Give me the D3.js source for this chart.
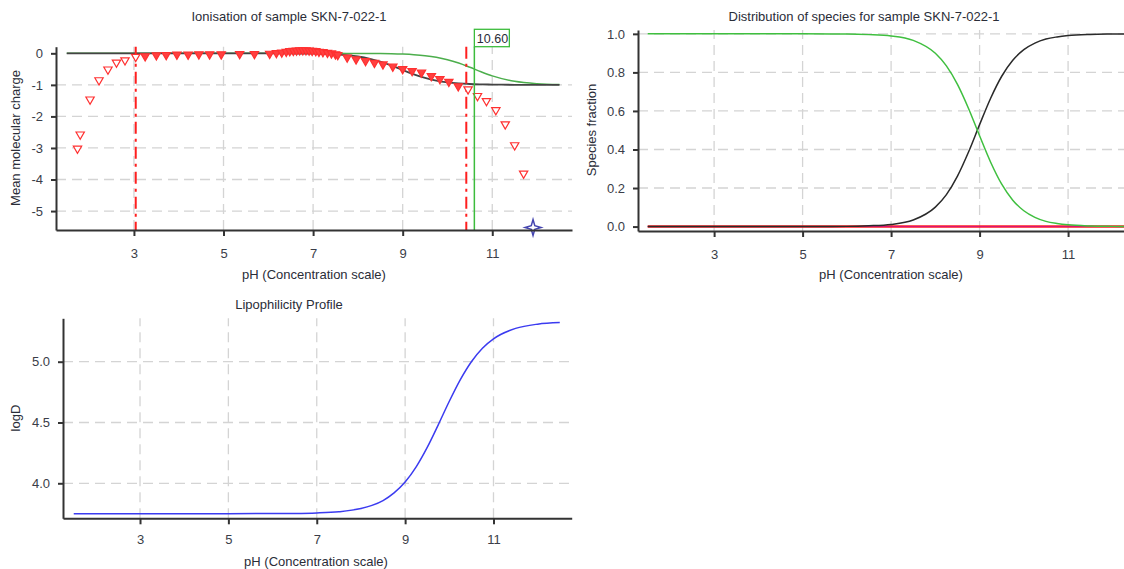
<!DOCTYPE html>
<html><head><meta charset="utf-8">
<script src="https://cdn.jsdelivr.net/npm/d3@7"></script>
<style>body{margin:0;background:#fff;} svg{display:block;font-family:"Liberation Sans",Arial,sans-serif;}</style>
</head><body><svg id="c" width="1124" height="569"></svg>
<script>
// ---------------- data ----------------
const phTicks = [3, 5, 7, 9, 11];
const chargeTicks = [0, -1, -2, -3, -4, -5];
const fractionTicks = [0.0, 0.2, 0.4, 0.6, 0.8, 1.0];
const logDTicks = [4.0, 4.5, 5.0];

const titleIon = "Ionisation of sample SKN-7-022-1";
const titleDist = "Distribution of species for sample SKN-7-022-1";
const titleLipo = "Lipophilicity Profile";
const xTitle = "pH (Concentration scale)";

// measured points (mean molecular charge)
const markerPH = [1.74,1.80,2.02,2.22,2.42,2.61,2.80,3.04,3.25,3.50,3.72,3.96,4.21,4.45,4.69,4.95,5.36,5.69,
  6.03,6.18,6.30,6.40,6.48,6.56,6.63,6.70,6.77,6.84,6.91,6.98,7.06,7.13,7.22,7.32,7.41,7.50,
  7.55,7.76,7.96,8.17,8.37,8.56,8.78,9.00,9.21,9.42,9.64,9.83,10.03,10.24,10.46,10.67,10.87,11.08,11.29,11.50,11.70];
const markerCharge = [-3.02,-2.57,-1.46,-0.85,-0.51,-0.29,-0.22,-0.11,-0.09,-0.06,-0.05,-0.04,-0.04,-0.03,-0.03,-0.03,-0.02,-0.02,
  -0.01,0.01,0.03,0.05,0.07,0.08,0.09,0.10,0.10,0.10,0.09,0.08,0.07,0.05,0.04,0.02,0.00,-0.03,
  -0.05,-0.13,-0.19,-0.24,-0.30,-0.35,-0.42,-0.50,-0.56,-0.61,-0.72,-0.81,-0.90,-1.04,-1.14,-1.35,-1.51,-1.80,-2.25,-2.91,-3.81];
const fitRange = [3.04, 10.42];
const pKaLabel = 10.60;
const starPH = 11.91, starCharge = -5.52;

// fitted curves
const curvePH = [1.5,2,3,4,5,6,6.5,7,7.5,8,8.25,8.5,8.75,9,9.25,9.5,9.75,10,10.25,10.5,10.75,11,11.5,12,12.5];
const chargeFit = [0,0,0,0,0,-0.001,-0.004,-0.011,-0.034,-0.101,-0.166,-0.262,-0.387,-0.529,-0.666,-0.780,-0.863,-0.918,-0.952,-0.973,-0.984,-0.991,-0.997,-0.999,-1.0];
const chargeMacro = [0,0,0,0,0,0,0,0,-0.001,-0.003,-0.004,-0.008,-0.014,-0.025,-0.043,-0.074,-0.124,-0.201,-0.309,-0.443,-0.585,-0.715,-0.888,-0.962,-0.988];
const fracNeutral = [1,1,1,1,1,0.999,0.996,0.989,0.966,0.899,0.834,0.738,0.613,0.471,0.334,0.220,0.137,0.082,0.048,0.027,0.016,0.009,0.003,0.001,0.0];
const fracAnion = [0,0,0,0,0,0.001,0.004,0.011,0.034,0.101,0.166,0.262,0.387,0.529,0.666,0.780,0.863,0.918,0.952,0.973,0.984,0.991,0.997,0.999,1.0];
const fracOther = [0,0,0,0,0,0,0,0,0,0,0,0,0,0,0,0,0,0,0,0,0,0,0,0,0];
const logD = [3.75,3.75,3.75,3.75,3.75,3.751,3.752,3.756,3.766,3.792,3.818,3.858,3.921,4.01,4.135,4.295,4.481,4.675,4.853,5.0,5.111,5.188,5.274,5.309,5.322];

// ---------------- drawing ----------------
const FONT = "Liberation Sans, Arial, sans-serif";
const FS = 13;
const TXT = "#3a3d48";
const svg = d3.select("#c");

function grid(g, x, y, xt, yt) {
  const [yb, yt0] = y.range();
  const [xl, xr] = x.range();
  g.selectAll(null).data(xt).join("line")
    .attr("x1", d => x(d)).attr("x2", d => x(d)).attr("y1", yb).attr("y2", yt0)
    .attr("stroke", "#d4d4d4").attr("stroke-width", 1.3).attr("stroke-dasharray", "10,6");
  g.selectAll(null).data(yt).join("line")
    .attr("y1", d => y(d)).attr("y2", d => y(d)).attr("x1", xl).attr("x2", xr)
    .attr("stroke", "#d4d4d4").attr("stroke-width", 1.3).attr("stroke-dasharray", "10,6");
}
function axes(g, x, y, xt, yt, fy, padX) {
  const ax = g.append("g").attr("transform", `translate(0,${y.range()[0]})`)
    .call(d3.axisBottom(x).tickValues(xt).tickSize(6).tickSizeOuter(0).tickPadding(padX).tickFormat(d => String(d)));
  const ay = g.append("g").attr("transform", `translate(${x.range()[0]},0)`)
    .call(d3.axisLeft(y).tickValues(yt).tickSize(5).tickSizeOuter(0).tickPadding(8).tickFormat(fy));
  [ax, ay].forEach(a => {
    a.attr("font-family", FONT).attr("font-size", FS);
    a.select(".domain").attr("stroke", "#333").attr("stroke-width", 2);
    a.selectAll(".tick line").attr("stroke", "#333").attr("stroke-width", 2);
    a.selectAll(".tick text").attr("fill", TXT);
  });
}
function text(g, s, x, y, anchor, rot) {
  const t = g.append("text").text(s).attr("font-family", FONT).attr("font-size", FS).attr("fill", "#2a2d38")
    .attr("text-anchor", anchor || "middle");
  if (rot) t.attr("transform", `translate(${x},${y}) rotate(-90)`); else t.attr("x", x).attr("y", y);
  return t;
}
function series(xs, ys) { return xs.map((p, i) => ({p, v: ys[i]})); }

// ===== Panel 1: Ionisation =====
{
  const g = svg.append("g");
  const x = d3.scaleLinear().domain([1.26, 12.78]).range([56, 572]);
  const y = d3.scaleLinear().domain([-5.60, 0.21]).range([230, 46.7]);
  grid(g, x, y, phTicks, chargeTicks.filter(d => d !== 0));
  const line = d3.line().x(d => x(d.p)).y(d => y(d.v)).curve(d3.curveMonotoneX);
  g.append("path").datum(series(curvePH, chargeMacro)).attr("d", line)
    .attr("fill", "none").attr("stroke", "#4cae4c").attr("stroke-width", 1.5);
  g.append("path").datum(series(curvePH, chargeFit)).attr("d", line)
    .attr("fill", "none").attr("stroke", "#444").attr("stroke-width", 1.8);
  // fit range lines
  g.selectAll(null).data(fitRange).join("line")
    .attr("x1", d => x(d)).attr("x2", d => x(d)).attr("y1", 46.7).attr("y2", 230)
    .attr("stroke", "#ff1f1f").attr("stroke-width", 2).attr("stroke-dasharray", "12,5,3,5");
  // markers
  const tri = d3.symbol().type(d3.symbolTriangle).size(30);
  const pts = series(markerPH, markerCharge);
  g.selectAll(null).data(pts).join("path").attr("d", tri)
    .attr("transform", d => `translate(${x(d.p)},${y(d.v)}) rotate(180)`)
    .attr("fill", d => (d.p > fitRange[0] + 0.05 && d.p < fitRange[1]) ? "#ff4040" : "#fff")
    .attr("stroke", "#ff3030").attr("stroke-width", 1.2);
  // pKa line + label
  g.append("line").attr("x1", x(pKaLabel)).attr("x2", x(pKaLabel)).attr("y1", 46.7).attr("y2", 230)
    .attr("stroke", "#3cbc3c").attr("stroke-width", 1.5);
  g.append("rect").attr("x", x(pKaLabel)).attr("y", 29.3).attr("width", 35).attr("height", 17.4)
    .attr("fill", "#fff").attr("stroke", "#3cbc3c").attr("stroke-width", 1.3);
  text(g, pKaLabel.toFixed(2), x(pKaLabel) + 2.5, 43, "start").attr("font-size", 12.5);
  // star
  const star4 = {draw(ctx, size) { const r = Math.sqrt(size), k = r * 0.22;
    ctx.moveTo(0, -r); ctx.lineTo(k, -k); ctx.lineTo(r, 0); ctx.lineTo(k, k);
    ctx.lineTo(0, r); ctx.lineTo(-k, k); ctx.lineTo(-r, 0); ctx.lineTo(-k, -k); ctx.closePath(); }};
  g.append("path").attr("d", d3.symbol().type(star4).size(64)())
    .attr("transform", `translate(${x(starPH)},${y(starCharge)})`)
    .attr("fill", "#fff").attr("stroke", "#4646b0").attr("stroke-width", 1.5);
  axes(g, x, y, phTicks, chargeTicks, d => String(d), 13);
  text(g, titleIon, 289, 21);
  text(g, xTitle, 314, 279);
  text(g, "Mean molecular charge", 20, 138, "middle", true);
}

// ===== Panel 2: Distribution =====
{
  const g = svg.append("g");
  const x = d3.scaleLinear().domain([1.28, 12.77]).range([638, 1146.4]);
  const y = d3.scaleLinear().domain([-0.023, 1.02]).range([231, 30]);
  grid(g, x, y, phTicks, fractionTicks.filter(d => d !== 0));
  const line = d3.line().x(d => x(d.p)).y(d => y(d.v)).curve(d3.curveMonotoneX);
  g.append("path").datum(series(curvePH, fracOther)).attr("d", line)
    .attr("fill", "none").attr("stroke", "#ff2020").attr("stroke-width", 2.4);
  g.append("path").datum(series(curvePH, fracOther)).attr("d", line)
    .attr("fill", "none").attr("stroke", "#d8137a").attr("stroke-width", 1);
  g.append("path").datum(series(curvePH, fracAnion)).attr("d", line)
    .attr("fill", "none").attr("stroke", "#2a2a2a").attr("stroke-width", 1.5);
  g.append("path").datum(series(curvePH, fracNeutral)).attr("d", line)
    .attr("fill", "none").attr("stroke", "#3fbf3f").attr("stroke-width", 1.5);
  axes(g, x, y, phTicks, fractionTicks, d3.format(".1f"), 13);
  text(g, titleDist, 864, 21);
  text(g, xTitle, 891, 279);
  text(g, "Species fraction", 596, 130, "middle", true);
}

// ===== Panel 3: Lipophilicity =====
{
  const g = svg.append("g");
  const x = d3.scaleLinear().domain([1.257, 12.77]).range([63, 571.7]);
  const y = d3.scaleLinear().domain([3.712, 5.357]).range([518.3, 318.3]);
  grid(g, x, y, phTicks, logDTicks);
  const line = d3.line().x(d => x(d.p)).y(d => y(d.v)).curve(d3.curveMonotoneX);
  g.append("path").datum(series(curvePH, logD)).attr("d", line)
    .attr("fill", "none").attr("stroke", "#3b3bf0").attr("stroke-width", 1.5);
  axes(g, x, y, phTicks, logDTicks, d3.format(".1f"), 10);
  text(g, titleLipo, 289, 309);
  text(g, xTitle, 316, 566);
  text(g, "logD", 20, 418, "middle", true);
}
</script></body></html>
